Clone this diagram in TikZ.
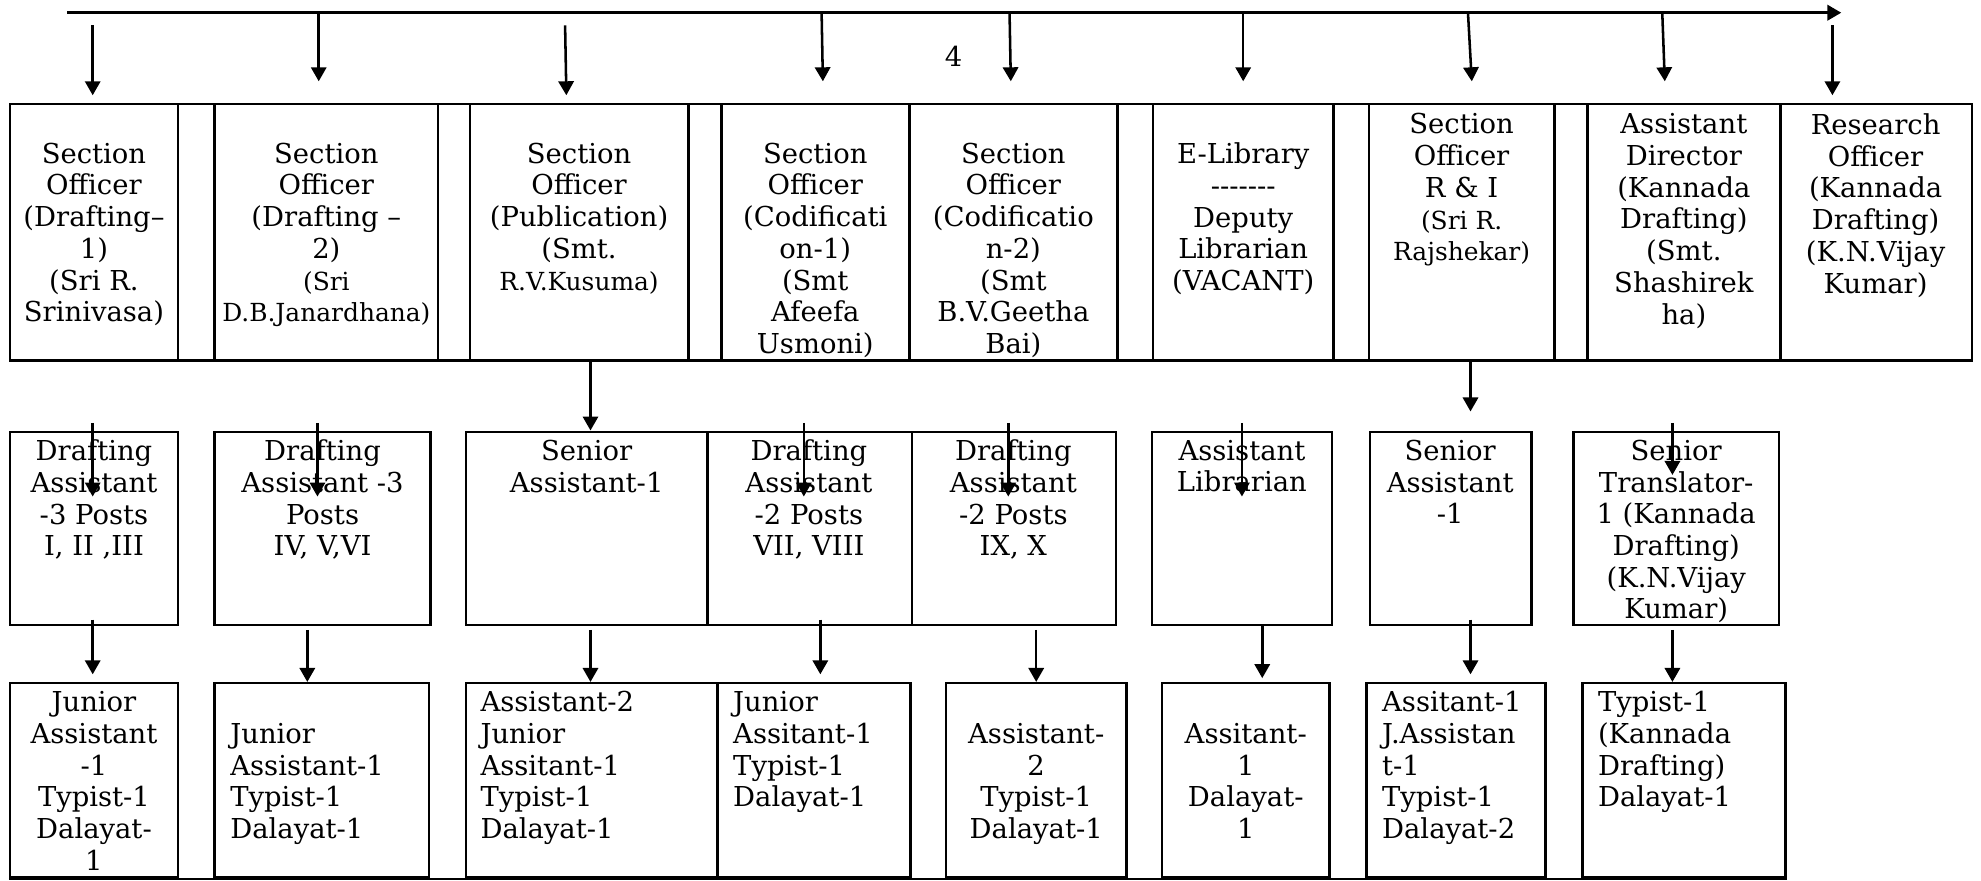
\documentclass[tikz,border=0pt]{standalone}
\usepackage{fontspec}
\setmainfont{DejaVu Serif}
\usetikzlibrary{arrows.meta,fit}
\begin{document}
\begin{tikzpicture}[x=0.5pt,y=-0.5pt,
  frame/.style={draw, line width=1pt, inner sep=0pt},
  txt/.style={inner sep=0pt, anchor=north, align=center, font=\fontsize{10.8pt}{12.5pt}\selectfont},
  txtl/.style={inner sep=0pt, anchor=north west, align=left, font=\fontsize{10.8pt}{12.5pt}\selectfont},
  arr/.style={line width=1pt, -{Triangle[length=5.5pt,width=6pt]}},
  mainline/.style={line width=1.2pt, -{Triangle[length=5.5pt,width=6pt]}}
]
\useasboundingbox (0,0) rectangle (1560,693);
\newcommand\nmfont{\fontsize{9.8pt}{12.5pt}\selectfont}

% ---------- top row (table-like) ----------
\node[frame, fit={(8,82) (140,284)}] (t1) {};
\node[frame, fit={(140,82) (169,284)}] (s1) {};
\node[frame, fit={(169,82) (345,284)}] (t2) {};
\node[frame, fit={(345,82) (370,284)}] (s2) {};
\node[frame, fit={(370,82) (542,284)}] (t3) {};
\node[frame, fit={(542,82) (568,284)}] (s3) {};
\node[frame, fit={(568,82) (716,284)}] (t4) {};
\node[frame, fit={(716,82) (880,284)}] (t5) {};
\node[frame, fit={(880,82) (908,284)}] (s4) {};
\node[frame, fit={(908,82) (1050,284)}] (t6) {};
\node[frame, fit={(1050,82) (1078,284)}] (s5) {};
\node[frame, fit={(1078,82) (1224,284)}] (t7) {};
\node[frame, fit={(1224,82) (1250,284)}] (s6) {};
\node[frame, fit={(1250,82) (1402,284)}] (t8) {};
\node[frame, fit={(1402,82) (1553,284)}] (t9) {};

\node[txt] (t1x) at (74,112) {Section\\Officer\\(Drafting–\\1)\\(Sri R.\\Srinivasa)};
\node[txt] (t2x) at (257,112) {Section\\Officer\\(Drafting –\\2)\\{\nmfont(Sri}\\{\nmfont D.B.Janardhana)}};
\node[txt] (t3x) at (456,112) {Section\\Officer\\(Publication)\\(Smt.\\{\nmfont R.V.Kusuma)}};
\node[txt] (t4x) at (642,112) {Section\\Officer\\(Codificati\\on-1)\\(Smt\\Afeefa\\Usmoni)};
\node[txt] (t5x) at (798,112) {Section\\Officer\\(Codificatio\\n-2)\\(Smt\\B.V.Geetha\\Bai)};
\node[txt] (t6x) at (979,112) {E-Library\\-{}-{}-{}-{}-{}-{}-\\Deputy\\Librarian\\(VACANT)};
\node[txt] (t7x) at (1151,89) {Section\\Officer\\R \& I\\{\nmfont(Sri R.}\\{\nmfont Rajshekar)}};
\node[txt] (t8x) at (1326,89) {Assistant\\Director\\(Kannada\\Drafting)\\(Smt.\\Shashirek\\ha)};
\node[txt] (t9x) at (1477,89) {Research\\Officer\\(Kannada\\Drafting)\\(K.N.Vijay\\Kumar)};

% ---------- middle row ----------
\node[frame, fit={(8,340) (140,492)}] (m1) {};
\node[frame, fit={(169,340) (339,492)}] (m2) {};
\node[frame, fit={(367,340) (557,492)}] (m3) {};
\node[frame, fit={(557,340) (718,492)}] (m4) {};
\node[frame, fit={(718,340) (879,492)}] (m5) {};
\node[frame, fit={(907,340) (1049,492)}] (m6) {};
\node[frame, fit={(1079,340) (1206,492)}] (m7) {};
\node[frame, fit={(1239,340) (1401,492)}] (m8) {};

\node[txt] (m1x) at (74,346) {Drafting\\Assistant\\-3 Posts\\I, II ,III};
\node[txt] (m2x) at (254,346) {Drafting\\Assistant -3\\Posts\\IV, V,VI};
\node[txt] (m3x) at (462,346) {Senior\\Assistant-1};
\node[txt] (m4x) at (637,346) {Drafting\\Assistant\\-2 Posts\\VII, VIII};
\node[txt] (m5x) at (798,346) {Drafting\\Assistant\\-2 Posts\\IX, X};
\node[txt] (m6x) at (978,346) {Assistant\\Librarian};
\node[txt] (m7x) at (1142,346) {Senior\\Assistant\\-1};
\node[txt] (m8x) at (1320,346) {Senior\\Translator-\\1 (Kannada\\Drafting)\\(K.N.Vijay\\Kumar)};

% ---------- bottom row ----------
\node[frame, fit={(8,538) (140,691)}] (b1) {};
\node[frame, fit={(169,538) (338,691)}] (b2) {};
\node[frame, fit={(367,538) (565,691)}] (b3) {};
\node[frame, fit={(565,538) (717,691)}] (b4) {};
\node[frame, fit={(745,538) (887,691)}] (b5) {};
\node[frame, fit={(915,538) (1047,691)}] (b6) {};
\node[frame, fit={(1076,538) (1217,691)}] (b7) {};
\node[frame, fit={(1246,538) (1406,691)}] (b8) {};
\draw[line width=1pt] (b1.south west) -- (b8.south east);

\node[txt] (b1x) at (74,544) {Junior\\Assistant\\-1\\Typist-1\\Dalayat-\\1};
\node[txtl] (b2x) at (181,569) {Junior\\Assistant-1\\Typist-1\\Dalayat-1};
\node[txtl] (b3x) at (378,544) {Assistant-2\\Junior\\Assitant-1\\Typist-1\\Dalayat-1};
\node[txtl] (b4x) at (577,544) {Junior\\Assitant-1\\Typist-1\\Dalayat-1};
\node[txt] (b5x) at (816,569) {Assistant-\\2\\Typist-1\\Dalayat-1};
\node[txt] (b6x) at (981,569) {Assitant-\\1\\Dalayat-\\1};
\node[txtl] (b7x) at (1088,544) {Assitant-1\\J.Assistan\\t-1\\Typist-1\\Dalayat-2};
\node[txtl] (b8x) at (1258,544) {Typist-1\\(Kannada\\Drafting)\\Dalayat-1};

% ---------- label ----------
\node[inner sep=0pt, font=\fontsize{10.8pt}{12.5pt}\selectfont] (four) at (751,44) {4};

% ---------- top connector line ----------
\coordinate (ms) at (53,10);
\coordinate (me) at (1450,10);
\draw[mainline] (ms) -- (me);

\coordinate (a1s) at (73,20);   \coordinate (a1e) at (73,75);
\coordinate (a2s) at (251,10);  \coordinate (a2e) at (251,64);
\coordinate (a3s) at (445,20);  \coordinate (a3e) at (446,75);
\coordinate (a4s) at (647,10);  \coordinate (a4e) at (648,64);
\coordinate (a5s) at (795,10);  \coordinate (a5e) at (796,64);
\coordinate (a6s) at (979,10);  \coordinate (a6e) at (979,64);
\coordinate (a7s) at (1156,10); \coordinate (a7e) at (1159,64);
\coordinate (a8s) at (1309,10); \coordinate (a8e) at (1311,64);
\coordinate (a9s) at (1443,20); \coordinate (a9e) at (1443,75);
\foreach \i in {1,...,9} {\draw[arr] (a\i s) -- (a\i e);}

% ---------- top -> middle ----------
\coordinate (c1s) at (73,333);   \coordinate (c1e) at (73,391);
\coordinate (c2s) at (250,333);  \coordinate (c2e) at (250,391);
\coordinate (c3s) at (465,284);
\coordinate (c4s) at (633,333);  \coordinate (c4e) at (633,391);
\coordinate (c5s) at (794,333);  \coordinate (c5e) at (794,391);
\coordinate (c6s) at (978,333);  \coordinate (c6e) at (978,391);
\coordinate (c7s) at (1158,284); \coordinate (c7e) at (1158,324);
\coordinate (c8s) at (1317,333); \coordinate (c8e) at (1317,374);
\draw[arr] (c1s) -- (c1e);
\draw[arr] (c2s) -- (c2e);
\draw[arr] (c3s) -- (c3s |- m3.north);
\draw[arr] (c4s) -- (c4e);
\draw[arr] (c5s) -- (c5e);
\draw[arr] (c6s) -- (c6e);
\draw[arr] (c7s) -- (c7e);
\draw[arr] (c8s) -- (c8e);

% ---------- middle -> bottom ----------
\coordinate (d1s) at (73,488);   \coordinate (d1e) at (73,531);
\coordinate (d2s) at (242,496);
\coordinate (d3s) at (465,496);
\coordinate (d4s) at (646,488);  \coordinate (d4e) at (646,531);
\coordinate (d5s) at (816,496);
\coordinate (d6s) at (994,492);  \coordinate (d6e) at (994,534);
\coordinate (d7s) at (1158,488); \coordinate (d7e) at (1158,531);
\coordinate (d8s) at (1317,496);
\draw[arr] (d1s) -- (d1e);
\draw[arr] (d2s) -- (d2s |- b2.north);
\draw[arr] (d3s) -- (d3s |- b3.north);
\draw[arr] (d4s) -- (d4e);
\draw[arr] (d5s) -- (d5s |- b5.north);
\draw[arr] (d6s) -- (d6e);
\draw[arr] (d7s) -- (d7e);
\draw[arr] (d8s) -- (d8s |- b8.north);
\end{tikzpicture}
\end{document}
